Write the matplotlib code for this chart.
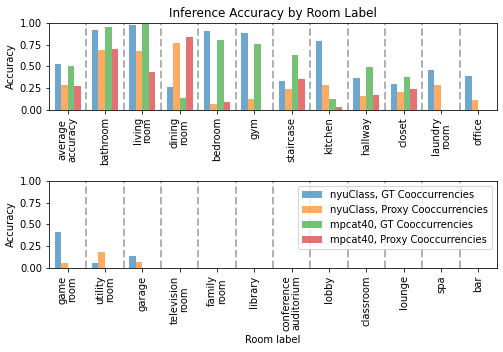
import numpy as np
import matplotlib
matplotlib.use("Agg")
import matplotlib.pyplot as plt

top_labels = ["average\naccuracy", "bathroom", "living\nroom", "dining\nroom", "bedroom", "gym",
              "staircase", "kitchen", "hallway", "closet", "laundry\nroom", "office"]
bottom_labels = ["game\nroom", "utility\nroom", "garage", "television\nroom", "family\nroom", "library",
                 "conference\nauditorium", "lobby", "classroom", "lounge", "spa", "bar"]

series_names = ["nyuClass, GT Cooccurrencies", "nyuClass, Proxy Cooccurrencies",
                "mpcat40, GT Cooccurrencies", "mpcat40, Proxy Cooccurrencies"]

nyu_gt_top = [0.527, 0.916, 0.973, 0.263, 0.905, 0.88, 0.33, 0.79, 0.366, 0.30, 0.458, 0.39]
nyu_proxy_top = [0.286, 0.687, 0.676, 0.767, 0.069, 0.126, 0.24, 0.286, 0.16, 0.206, 0.286, 0.115]
mp_gt_top = [0.504, 0.95, 0.985, 0.137, 0.80, 0.756, 0.63, 0.126, 0.49, 0.378, 0.0, 0.0]
mp_proxy_top = [0.275, 0.698, 0.434, 0.836, 0.092, 0.0, 0.355, 0.034, 0.17, 0.24, 0.0, 0.0]

nyu_gt_bot = [0.414, 0.061, 0.14, 0, 0, 0, 0, 0, 0, 0, 0, 0]
nyu_proxy_bot = [0.061, 0.186, 0.072, 0, 0, 0, 0, 0, 0, 0, 0, 0]
mp_gt_bot = [0] * 12
mp_proxy_bot = [0] * 12

colors = ["tab:blue", "tab:orange", "tab:green", "tab:red"]

fig = plt.figure(figsize=(503 / 72, 352 / 72), dpi=72)
ax1 = fig.add_axes([0.0974, 0.6875, 0.8907, 0.248])
ax2 = fig.add_axes([0.0974, 0.2378, 0.8907, 0.2489])

w = 0.175
x = np.arange(12)


def draw(ax, labels, data, legend=False):
    for k, (vals, c) in enumerate(zip(data, colors)):
        ax.bar(x + (k - 1.5) * w, vals, w, color=c, alpha=0.65, label=series_names[k])
    for i in range(11):
        ax.axvline(i + 0.5, color="gray", linestyle="--", linewidth=2, alpha=0.6)
    ax.set_xlim(-0.5, 11.5)
    ax.set_ylim(0, 1)
    ax.set_yticks([0, 0.25, 0.5, 0.75, 1.0])
    ax.set_xticks(x)
    ax.set_xticklabels(labels, rotation=90, linespacing=0.95)
    ax.set_ylabel("Accuracy")
    if legend:
        ax.legend(loc="upper right")


draw(ax1, top_labels, [nyu_gt_top, nyu_proxy_top, mp_gt_top, mp_proxy_top])
ax1.set_title("Inference Accuracy by Room Label")
draw(ax2, bottom_labels, [nyu_gt_bot, nyu_proxy_bot, mp_gt_bot, mp_proxy_bot], legend=True)
ax2.set_xlabel("Room label")

fig.savefig("out.png", dpi=72)
